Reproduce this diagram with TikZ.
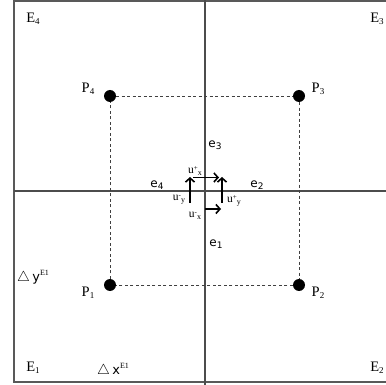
\documentclass[tikz,border=0pt]{standalone}
\usepackage{fontspec}
\setmainfont{Liberation Serif}
\newfontfamily\esans{DejaVu Sans}
\usetikzlibrary{arrows.meta}
\newcommand{\mysub}[1]{\raisebox{-0.35ex}{\fontsize{9}{9}\selectfont #1}}
\newcommand{\mysup}[1]{\raisebox{0.9ex}{\fontsize{8}{8}\selectfont #1}}
\newcommand{\usub}[1]{\raisebox{-0.4ex}{\fontsize{8}{8}\selectfont #1}}
\newcommand{\usup}[1]{\raisebox{0.6ex}{\fontsize{7}{7}\selectfont #1}}
\begin{document}
\begin{tikzpicture}[x=1pt,y=-1pt,
  frame/.style={draw=black!65,line width=1.6pt},
  axis/.style={draw=black!70,line width=1.6pt},
  dashline/.style={draw=black!75,dashed,line width=0.8pt,dash pattern=on 3pt off 2.5pt},
  pt/.style={circle,fill=black,inner sep=0pt,minimum size=12pt},
  lab/.style={inner sep=0pt,font=\fontsize{14.5}{14.5}\selectfont},
  elab/.style={inner sep=0pt,font=\esans\fontsize{12}{12}\selectfont},
  ulab/.style={inner sep=0pt,font=\fontsize{11.5}{11.5}\selectfont},
  varr/.style={draw=black,line width=1.6pt,-{Straight Barb[length=4pt,width=9pt,line width=1.6pt]}}]
\useasboundingbox (0,0) rectangle (386,385);
% outer frame (open on right)
\draw[frame] (394,1) -- (14,1) -- (14,382) -- (394,382);
% cross
\coordinate (ct) at (205,0);
\coordinate (cb) at (205,385);
\coordinate (cl) at (14,191);
\coordinate (cr) at (386,191);
\draw[axis] (ct) -- (cb);
\draw[axis] (cl) -- (cr);
% points
\node[pt] (P4) at (110,96) {};
\node[pt] (P3) at (299,96) {};
\node[pt] (P1) at (110,285) {};
\node[pt] (P2) at (299,285) {};
\draw[dashline] (P4) -- (P3) -- (P2) -- (P1) -- (P4);
% point labels
\node[lab] (lP4) at (88,89) {P\mysub{4}};
\node[lab] (lP3) at (318,89) {P\mysub{3}};
\node[lab] (lP1) at (88,293) {P\mysub{1}};
\node[lab] (lP2) at (318,293) {P\mysub{2}};
% corner labels
\node[lab] (E4) at (33,19) {E\mysub{4}};
\node[lab] (E3) at (377,19) {E\mysub{3}};
\node[lab] (E1) at (33,368) {E\mysub{1}};
\node[lab] (E2) at (377,368) {E\mysub{2}};
% deltas
\node[lab,anchor=west] (dy) at (17,277) {$\triangle$\,{\esans\fontsize{13}{13}\selectfont y}\mysup{E1}};
\node[lab,anchor=west] (dx) at (97,370) {$\triangle$\,{\esans\fontsize{13}{13}\selectfont x}\mysup{E1}};
% edge labels
\node[elab] (e3) at (215,145) {e\mysub{3}};
\node[elab] (e4) at (157,185) {e\mysub{4}};
\node[elab] (e2) at (257,185) {e\mysub{2}};
\node[elab] (e1) at (216,244) {e\mysub{1}};
% arrows
\coordinate (a1s) at (193,177.5);
\coordinate (a1e) at (219,177.5);
\coordinate (a2s) at (205,209);
\coordinate (a2e) at (221,209);
\coordinate (a3s) at (190,203);
\coordinate (a3e) at (190,177);
\coordinate (a4s) at (222,203);
\coordinate (a4e) at (222,177);
\draw[varr] (a1s) -- (a1e);
\draw[varr] (a2s) -- (a2e);
\draw[varr] (a3s) -- (a3e);
\draw[varr] (a4s) -- (a4e);
% u labels
\node[ulab] (upx) at (195,171) {u\usup{+}\usub{x}};
\node[ulab] (umy) at (179,200) {u\usup{-}\usub{y}};
\node[ulab] (upy) at (234,201) {u\usup{+}\usub{y}};
\node[ulab] (umx) at (195,216) {u\usup{-}\usub{x}};
\end{tikzpicture}
\end{document}
